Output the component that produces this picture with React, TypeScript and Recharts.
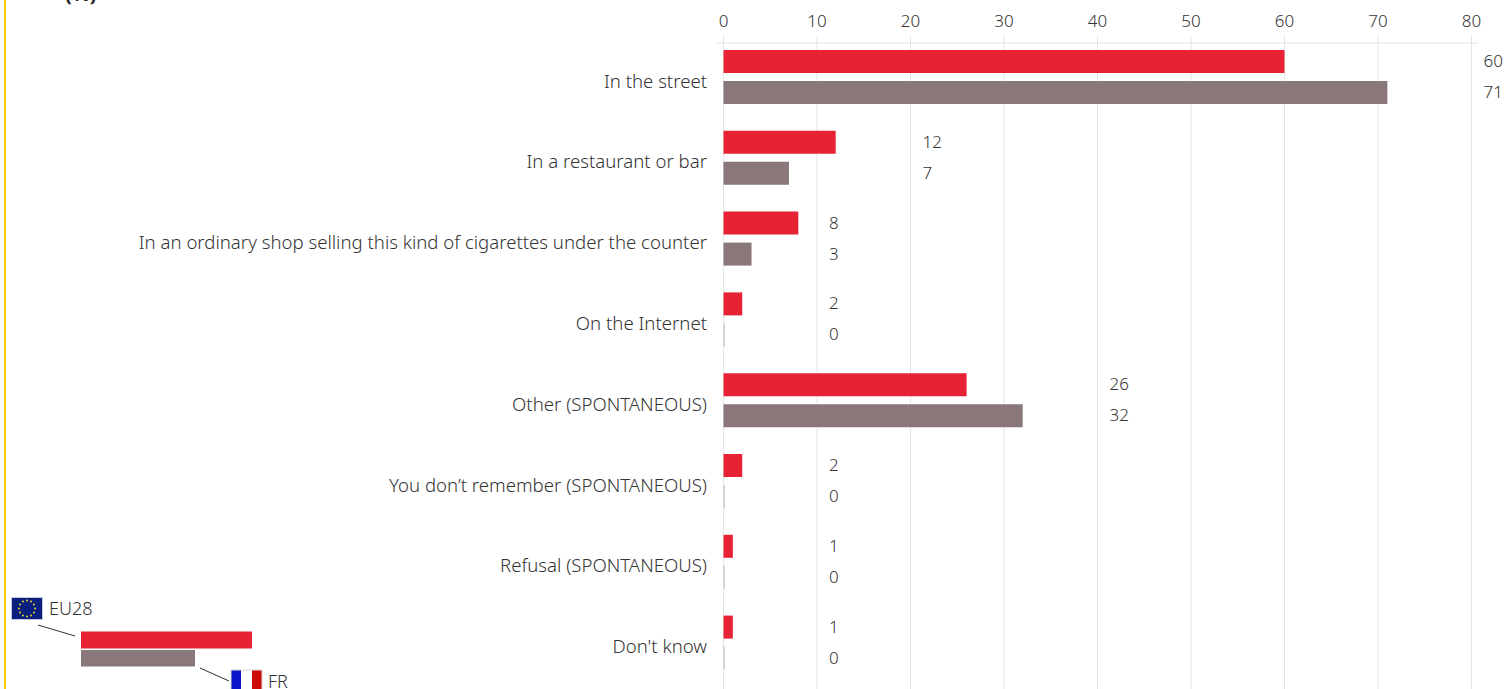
import { Bar, BarChart, CartesianGrid, Cell, LabelList, XAxis, YAxis } from "recharts";

const categories = [
  "In the street",
  "In a restaurant or bar",
  "In an ordinary shop selling this kind of cigarettes under the counter",
  "On the Internet",
  "Other (SPONTANEOUS)",
  "You don’t remember (SPONTANEOUS)",
  "Refusal (SPONTANEOUS)",
  "Don't know",
];
const eu28Values = [60, 12, 8, 2, 26, 2, 1, 1];
const frValues = [71, 7, 3, 0, 32, 0, 0, 0];
const xTicks = [0, 10, 20, 30, 40, 50, 60, 70, 80];
// Each row's labels sit in one column, just past the next round tick
const labelColumns = [80, 20, 10, 10, 40, 10, 10, 10];

const chartData = categories.map((name, i) => ({
  name,
  eu28: eu28Values[i],
  fr: frValues[i],
}));

const RED = "#E62234";
const TAUPE = "#8A7779";
const ZERO_BAR = "#CFCFCF";
const GRID = "#E4E4E4";
const TEXT = "#333333";
const FONT = "'Noto Sans', sans-serif";

const PLOT_X0 = 723.5;
const UNIT = 9.35;

const ValueLabel = (props: any) => {
  const { y, height, value, index } = props;
  return (
    <text
      x={PLOT_X0 + labelColumns[index] * UNIT + 12}
      y={y + height / 2}
      dy={5.5}
      fontSize={17}
      fontWeight={300}
      fontFamily={FONT}
      fill={TEXT}
    >
      {value}
    </text>
  );
};

const starAngles = [0, 30, 60, 90, 120, 150, 180, 210, 240, 270, 300, 330];

const Legend = () => (
  <svg width={320} height={99} style={{ position: "absolute", left: 0, top: 590 }}>
    <rect x={11.5} y={7.5} width={31} height={22} fill="#0B1F7E" stroke="#C4C8DC" strokeWidth={1} />
    {starAngles.map((a) => (
      <circle
        key={a}
        cx={27 + 8 * Math.cos((a * Math.PI) / 180)}
        cy={18.5 + 8 * Math.sin((a * Math.PI) / 180)}
        r={1}
        fill="#E8D42A"
      />
    ))}
    <text x={49} y={25} fontSize={18} fontWeight={300} fontFamily={FONT} fill={TEXT}>
      EU28
    </text>
    <line x1={38} y1={35} x2={75} y2={46} stroke="#333" strokeWidth={1} />
    <rect x={81} y={41.5} width={171} height={17} fill={RED} />
    <rect x={81} y={60} width={114} height={16.5} fill={TAUPE} />
    <line x1={200} y1={78} x2={229} y2={91} stroke="#333" strokeWidth={1} />
    <rect x={231} y={80} width={10} height={22} fill="#0A14C8" />
    <rect x={241} y={80} width={11} height={22} fill="#FFFFFF" />
    <rect x={252} y={80} width={10} height={22} fill="#CC0A0A" />
    <rect x={231} y={80} width={31} height={22} fill="none" stroke="#D8D8D8" strokeWidth={1} />
    <text x={268} y={98} fontSize={18} fontWeight={300} fontFamily={FONT} fill={TEXT}>
      FR
    </text>
  </svg>
);

export default function App() {
  return (
    <div style={{ position: "fixed", left: 0, top: 0, width: 1504, height: 689, overflow: "hidden", background: "#fff" }}>
      <div style={{ position: "absolute", left: 4, top: 0, width: 2, height: 689, background: "#FFCC00" }} />
      <div
        style={{
          position: "absolute",
          left: 65,
          top: -20,
          fontFamily: FONT,
          fontWeight: 700,
          fontSize: 20,
          color: "#222",
        }}
      >
        (%)
      </div>
      <BarChart
        width={1504}
        height={720}
        data={chartData}
        layout="vertical"
        barSize={23}
        barGap={8}
        margin={{ top: 0, right: 26, left: 0, bottom: 20 }}
      >
        <CartesianGrid horizontal={false} stroke={GRID} syncWithTicks />
        <XAxis
          type="number"
          orientation="top"
          domain={[0, 80]}
          ticks={xTicks}
          height={43}
          padding={{ left: 6.5, right: 6.5 }}
          axisLine={{ stroke: GRID }}
          tickLine={{ stroke: GRID }}
          tickSize={7}
          tickMargin={9}
          tick={{ fontSize: 17, fontWeight: 300, fontFamily: FONT, fill: TEXT }}
        />
        <YAxis
          type="category"
          dataKey="name"
          width={717}
          interval={0}
          axisLine={false}
          tickLine={false}
          tickSize={0}
          tickMargin={10}
          padding={{ top: -6, bottom: 16.6 }}
          tick={{ fontSize: 18.6, fontWeight: 300, fontFamily: FONT, fill: TEXT, dy: 3.5 }}
        />
        <Bar dataKey="eu28" fill={RED} minPointSize={1} isAnimationActive={false}>
          <LabelList dataKey="eu28" content={ValueLabel} />
        </Bar>
        <Bar dataKey="fr" fill={TAUPE} minPointSize={1.5} isAnimationActive={false}>
          {frValues.map((v, i) => (
            <Cell key={i} fill={v === 0 ? ZERO_BAR : TAUPE} />
          ))}
          <LabelList dataKey="fr" content={ValueLabel} />
        </Bar>
      </BarChart>
      <Legend />
    </div>
  );
}
